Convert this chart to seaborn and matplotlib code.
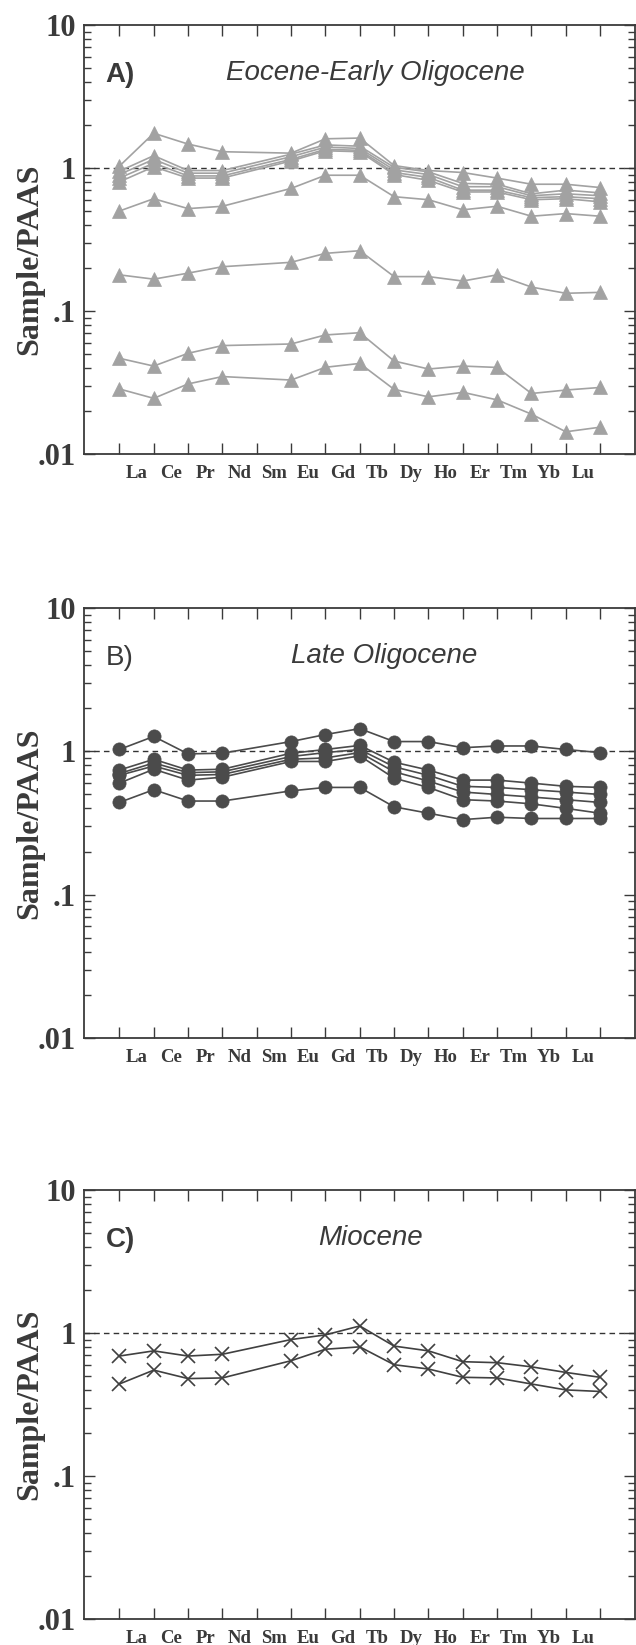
import numpy as np
import pandas as pd
import matplotlib
matplotlib.use("Agg")
import matplotlib.pyplot as plt
from matplotlib.ticker import LogLocator, NullFormatter
import seaborn as sns

sns.set_theme(style="white")
plt.rcParams["font.family"] = ["Liberation Serif", "DejaVu Serif"]

# REE slots on the x axis (Pm has no data), and the measured elements
SLOTS = ["La", "Ce", "Pr", "Nd", "Pm", "Sm", "Eu", "Gd", "Tb", "Dy", "Ho", "Er", "Tm", "Yb", "Lu"]
REE = ["La", "Ce", "Pr", "Nd", "Sm", "Eu", "Gd", "Tb", "Dy", "Ho", "Er", "Tm", "Yb", "Lu"]
X_LABELS = ["La", "Ce", "Pr", "Nd", "Sm", "Eu", "Gd", "Tb", "Dy", "Ho", "Er", "Tm", "Yb", "Lu"]

# A) Eocene - Early Oligocene
eo_1 = [1.03, 1.75, 1.47, 1.30, 1.27, 1.60, 1.62, 1.04, 0.96, 0.93, 0.85, 0.77, 0.77, 0.73]
eo_2 = [0.95, 1.22, 0.96, 0.96, 1.25, 1.45, 1.42, 1.01, 0.94, 0.78, 0.77, 0.66, 0.70, 0.67]
eo_3 = [0.90, 1.15, 0.92, 0.92, 1.20, 1.40, 1.37, 0.97, 0.90, 0.74, 0.74, 0.64, 0.66, 0.64]
eo_4 = [0.85, 1.08, 0.88, 0.88, 1.15, 1.35, 1.33, 0.93, 0.86, 0.70, 0.70, 0.62, 0.63, 0.61]
eo_5 = [0.80, 1.02, 0.85, 0.85, 1.12, 1.32, 1.30, 0.90, 0.82, 0.68, 0.68, 0.60, 0.61, 0.58]
eo_6 = [0.50, 0.61, 0.52, 0.54, 0.72, 0.89, 0.89, 0.63, 0.60, 0.51, 0.54, 0.46, 0.48, 0.46]
eo_7 = [0.179, 0.167, 0.184, 0.204, 0.219, 0.253, 0.264, 0.174, 0.174, 0.162, 0.179, 0.147, 0.133, 0.135]
eo_8 = [0.0467, 0.0412, 0.0506, 0.0573, 0.0588, 0.068, 0.0705, 0.0447, 0.0393, 0.0412, 0.0403, 0.0265, 0.028, 0.0292]
eo_9 = [0.0285, 0.0245, 0.0309, 0.0348, 0.0329, 0.0404, 0.043, 0.0283, 0.0251, 0.027, 0.0239, 0.019, 0.0143, 0.0154]

# B) Late Oligocene
lo_1 = [1.03, 1.27, 0.96, 0.97, 1.17, 1.31, 1.44, 1.17, 1.17, 1.06, 1.09, 1.09, 1.03, 0.98]
lo_2 = [0.74, 0.88, 0.74, 0.75, 0.97, 1.03, 1.10, 0.84, 0.74, 0.63, 0.63, 0.60, 0.57, 0.56]
lo_3 = [0.70, 0.83, 0.71, 0.72, 0.92, 0.98, 1.03, 0.78, 0.68, 0.57, 0.56, 0.54, 0.52, 0.50]
lo_4 = [0.68, 0.79, 0.68, 0.69, 0.88, 0.90, 0.98, 0.72, 0.62, 0.52, 0.50, 0.48, 0.46, 0.44]
lo_5 = [0.60, 0.75, 0.63, 0.66, 0.85, 0.85, 0.93, 0.65, 0.56, 0.46, 0.45, 0.43, 0.40, 0.37]
lo_6 = [0.44, 0.54, 0.45, 0.45, 0.53, 0.56, 0.56, 0.41, 0.37, 0.334, 0.347, 0.34, 0.34, 0.34]

# C) Miocene
mi_1 = [0.69, 0.75, 0.69, 0.71, 0.90, 0.97, 1.12, 0.81, 0.75, 0.63, 0.62, 0.58, 0.53, 0.49]
mi_2 = [0.44, 0.55, 0.48, 0.485, 0.64, 0.77, 0.80, 0.60, 0.56, 0.49, 0.485, 0.44, 0.40, 0.39]

GREY_A = "#a2a2a2"
GREY_B = "#4b4b4b"
GREY_C = "#404040"

PANELS = [
    ("A)", "bold", "Eocene-Early Oligocene", 7.45, [eo_1, eo_2, eo_3, eo_4, eo_5, eo_6, eo_7, eo_8, eo_9],
     dict(marker="^", markersize=10.5, color=GREY_A, markeredgecolor=GREY_A, markeredgewidth=0.5), 0.455),
    ("B)", "normal", "Late Oligocene", 7.7, [lo_1, lo_2, lo_3, lo_4, lo_5, lo_6],
     dict(marker="o", markersize=9.5, color=GREY_B, markeredgecolor=GREY_B, markeredgewidth=0.5), 0.5),
    ("C)", "bold", "Miocene", 7.3, [mi_1, mi_2],
     dict(marker="x", markersize=10, color=GREY_C, markeredgecolor=GREY_C, markeredgewidth=1.2), 0.5),
]

INK = "#3a3a3a"


def to_long(series):
    rows = []
    for i, vals in enumerate(series):
        for el, v in zip(REE, vals):
            rows.append({"sample": i, "element": el, "pos": SLOTS.index(el), "value": v})
    return pd.DataFrame(rows)


fig = plt.figure(figsize=(6.36, 16.45), dpi=100)
boxes = [(25, 454), (608, 1038), (1190, 1619)]
H = 1645.0
W = 636.0

for (letter, weight, title, title_x, series, style, ylab_y), (top, bot) in zip(PANELS, boxes):
    ax = fig.add_axes([84 / W, 1 - bot / H, 550.5 / W, (bot - top) / H])
    df = to_long(series)
    sns.lineplot(data=df, x="pos", y="value", units="sample", estimator=None,
                 lw=1.2, ax=ax, legend=False, zorder=3, **style)
    ax.axhline(1, color="#333333", lw=1.0, ls=(0, (4, 3)), zorder=2)

    ax.set_yscale("log")
    ax.set_ylim(0.01, 10)
    ax.set_xlim(-1.03, 15.0)

    ax.set_yticks([0.01, 0.1, 1, 10], [".01", ".1", "1", "10"])
    ax.yaxis.set_minor_locator(LogLocator(base=10, subs=np.arange(2, 10)))
    ax.yaxis.set_minor_formatter(NullFormatter())

    ax.set_xticks(range(len(SLOTS)), [""] * len(SLOTS))
    ax.set_xticks(np.arange(len(X_LABELS)) + 0.5, X_LABELS, minor=True)

    ax.tick_params(axis="both", which="both", direction="in", colors=INK,
                   left=True, right=True, top=True, bottom=True)
    ax.tick_params(axis="y", which="major", length=8, width=1.0, pad=6,
                   labelsize=22)
    ax.tick_params(axis="y", which="minor", length=5, width=1.0)
    ax.tick_params(axis="x", which="major", length=8, width=1.0)
    ax.tick_params(axis="x", which="minor", length=0, pad=8, labelsize=13.5)
    for lab in ax.get_yticklabels() + ax.get_xticklabels(minor=True):
        lab.set_fontweight("bold")
        lab.set_color(INK)

    for sp in ax.spines.values():
        sp.set_color(INK)
        sp.set_linewidth(1.3)

    ax.set_xlabel("")
    ax.set_ylabel("Sample/PAAS", fontsize=23, fontweight="bold", color=INK)
    ax.yaxis.set_label_coords(-0.072, ylab_y)

    ax.text(-0.4, 4.5, letter, fontsize=20, fontweight=weight, color=INK,
            family=["Liberation Sans", "DejaVu Sans"], va="center", ha="left")
    ax.text(title_x, 4.6, title, fontsize=20, style="italic", color=INK,
            family=["Liberation Sans", "DejaVu Sans"], va="center", ha="center")

fig.savefig("out.png", dpi=100, facecolor="white")
